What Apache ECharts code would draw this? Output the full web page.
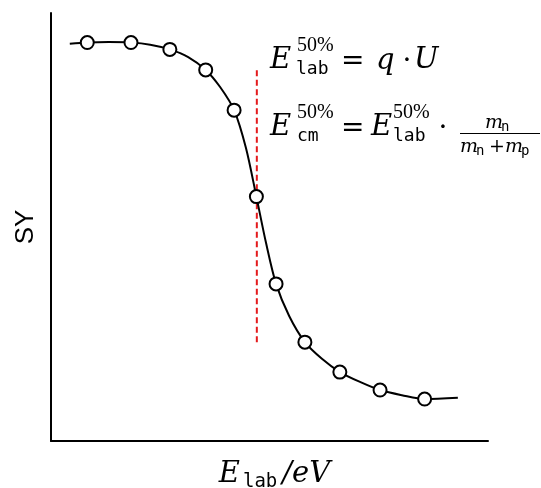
<!DOCTYPE html>
<html>
<head>
<meta charset="utf-8">
<script src="https://cdn.jsdelivr.net/npm/echarts@6/dist/echarts.min.js"></script>
<style>
html,body{margin:0;padding:0;background:#fff;}
#chart{width:541px;height:488px;}
</style>
</head>
<body>
<div id="chart"></div>
<script>
var energies = [8.3, 18.3, 27.2, 35.4, 41.9, 47.0, 51.5, 58.1, 66.1, 75.3, 85.5];
var yields   = [93.1, 93.1, 91.5, 86.7, 77.3, 57.1, 36.7, 23.1, 16.1, 11.9, 9.8];
// Fitted curve
var fitX = [4.3, 8.3, 13.2, 18.3, 22.7, 27.2, 31.4, 35.4, 38.7, 41.9, 44.6, 47.0, 49.2, 51.5, 54.5, 58.1, 62.0, 66.1, 70.7, 75.3, 80.3, 85.5, 93.1];
var fitY = [92.8, 93.1, 93.2, 93.1, 92.6, 91.5, 89.7, 86.7, 82.7, 77.3, 68.5, 57.1, 46.3, 36.7, 29.2, 23.1, 19.2, 16.1, 13.8, 11.9, 10.7, 9.8, 10.1];
// 50% energy marker
var e50 = 47.1;
var e50Range = [23.1, 86.9];

var xName = 'E_lab/eV';
var yName = 'SY';

var chart = echarts.init(document.getElementById('chart'));

var serif = '"DejaVu Serif", serif';
var serif2 = '"Liberation Serif", serif';
var mono = '"DejaVu Sans Mono", monospace';

function txt(x, y, s, font, align) {
  return {
    type: 'text', silent: true, z: 100,
    style: { x: x, y: y, text: s, font: font, fill: '#000',
             textAlign: align || 'left', textVerticalAlign: 'middle' }
  };
}
var fI = 'italic 29px ' + serif;
var fR = '28px ' + serif;
var fS = '20px ' + serif2;
var fM = '18px ' + mono;
var fFi = 'italic 19px ' + serif;
var fFr = '19px ' + serif;
var fFm = '14px ' + mono;

var option = {
  animation: false,
  backgroundColor: '#fff',
  grid: { left: 51, right: 53, top: 13, bottom: 47, containLabel: false, outerBoundsMode: 'none' },
  xAxis: {
    type: 'value', min: 0, max: 100,
    axisLine: { show: true, onZero: false, lineStyle: { color: '#000', width: 2 } },
    axisTick: { show: false }, axisLabel: { show: false }, splitLine: { show: false },
    name: '{e|E}{s|lab}{t|/eV}',
    nameLocation: 'middle', nameGap: 15,
    nameTextStyle: {
      padding: [0, 0, 0, 10],
      rich: {
        e: { fontFamily: serif, fontStyle: 'italic', fontSize: 29, lineHeight: 36, color: '#000', padding: [0, 3, 0, 0] },
        s: { fontFamily: mono, fontSize: 19, lineHeight: 20, verticalAlign: 'bottom', color: '#000', padding: [0, 5, 0, 0] },
        t: { fontFamily: serif, fontStyle: 'italic', fontSize: 29, lineHeight: 36, color: '#000' }
      }
    }
  },
  yAxis: {
    type: 'value', min: 0, max: 100,
    axisLine: { show: true, onZero: false, lineStyle: { color: '#000', width: 2 } },
    axisTick: { show: false }, axisLabel: { show: false }, splitLine: { show: false },
    name: yName, nameLocation: 'middle', nameRotate: 90, nameGap: 12,
    nameTextStyle: { fontFamily: '"Liberation Sans", sans-serif', fontSize: 26, color: '#000' }
  },
  series: [
    {
      type: 'line', name: 'fit', smooth: 0.3, showSymbol: false,
      data: fitX.map(function (x, i) { return [x, fitY[i]]; }),
      lineStyle: { color: '#000', width: 2 }, z: 2, silent: true
    },
    {
      type: 'line', name: 'E50', showSymbol: false,
      data: [[e50, e50Range[0]], [e50, e50Range[1]]],
      lineStyle: { color: '#e41a1c', width: 2, type: [6, 3.5] }, z: 1, silent: true
    },
    {
      type: 'scatter', name: 'SY', symbol: 'circle', symbolSize: 13,
      data: energies.map(function (x, i) { return [x, yields[i]]; }),
      itemStyle: { color: '#fff', borderColor: '#000', borderWidth: 2, opacity: 1 }, z: 3
    }
  ],
  graphic: [
    // E_lab^50% = q · U
    txt(270, 60, 'E', fI),
    txt(297, 46, '50%', fS),
    txt(296, 69, 'lab', fM),
    txt(341, 62, '=', fR),
    txt(376, 61, 'q', fI),
    txt(407, 62, '·', fR, 'center'),
    txt(414, 60, 'U', fI),
    // E_cm^50% = E_lab^50% · m_n/(m_n+m_p)
    txt(270, 127, 'E', fI),
    txt(297, 112.5, '50%', fS),
    txt(297, 136, 'cm', fM),
    txt(341, 129, '=', fR),
    txt(371, 127, 'E', fI),
    txt(393, 112.5, '50%', fS),
    txt(393, 136, 'lab', fM),
    txt(443, 129, '·', fR, 'center'),
    txt(485, 123, 'm', fFi),
    txt(501, 127, 'n', fFm),
    { type: 'line', silent: true, z: 100, shape: { x1: 460, y1: 133.5, x2: 540, y2: 133.5 }, style: { stroke: '#000', lineWidth: 1 } },
    txt(460, 147, 'm', fFi),
    txt(476, 151, 'n', fFm),
    txt(489, 147, '+', fFr),
    txt(505, 147, 'm', fFi),
    txt(521, 151, 'p', fFm)
  ]
};
chart.setOption(option);
</script>
</body>
</html>
